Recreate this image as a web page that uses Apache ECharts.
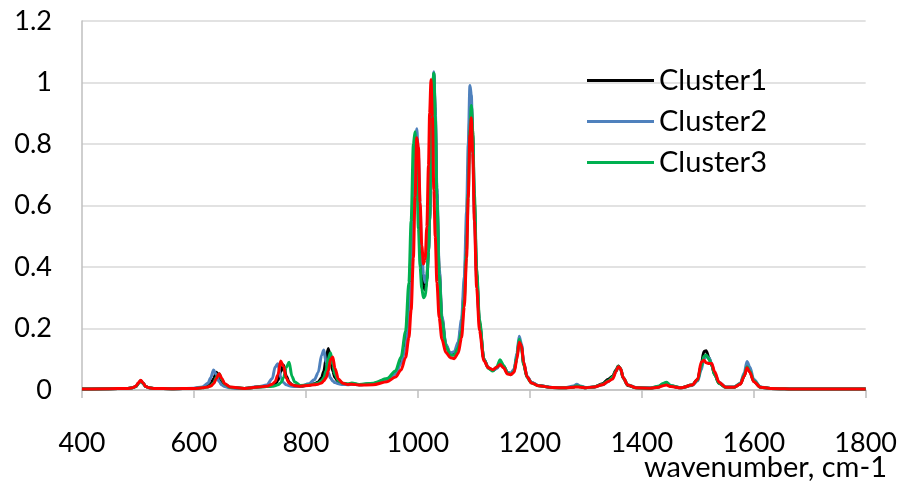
<!DOCTYPE html>
<html>
<head>
<meta charset="utf-8">
<script src="https://cdn.jsdelivr.net/npm/echarts@6/dist/echarts.min.js"></script>
<style>
html,body{margin:0;padding:0;background:#fff;}
#chart{width:900px;height:488px;}
</style>
</head>
<body>
<div id="chart"></div>
<script>
// wavenumbers (cm-1) at which the spectra were read
const wavenumber = [
  400,450,480,490,496,501,505,509,514,520,530,560,600,615,625,630,635,640,645,650,
  655,665,690,715,730,740,745,750,755,760,765,770,775,780,790,805,815,822,828,832,
  836,840,844,848,852,858,866,875,882,895,
  920,945,960,970,978,984,988,992,995,998,1001,1004,1007,1010,1013,1016,1019,1021,1023.5,1026,
  1028.5,1031,1034,1038,1043,1050,1058,1065,1072,1078,1083,1087,1090,1093,1095.5,1098,1101,1105,1110,1118,
  1126,1134,1141,1147,1153,1160,1166,1172,1177,1181,1185,1189,1195,1203,1215,
  1240,1265,1278,1284,1290,1300,1315,1330,1340,1348,1354,1358,1362,1367,1375,1390,1415,1430,1438,1444,
  1452,1470,1490,1500,1506,1511,1515,1520,1525,1530,1538,1550,1565,1576,1583,1588,1593,1600,1612,1630,
  1680,1740,1800
];
const cluster1 = [
  .003,.004,.005,.007,.011,.022,.030,.022,.011,.007,.005,.004,.005,.008,.013,.020,.036,.058,.045,.025,
  .015,.008,.005,.010,.011,.015,.020,.031,.060,.081,.045,.025,.017,.014,.012,.016,.020,.026,.040,.061,
  .101,.135,.101,.061,.040,.027,.021,.018,.020,.017,
  .021,.035,.057,.096,.165,.29,.45,.68,.80,.78,.64,.49,.39,.335,.325,.36,.45,.555,.74,.95,
  1.03,.905,.64,.39,.233,.146,.115,.116,.145,.21,.33,.51,.72,.90,.93,.83,.61,.38,.22,.10,
  .072,.064,.072,.09,.078,.058,.052,.065,.11,.16,.145,.085,.043,.024,.015,
  .008,.007,.010,.014,.011,.007,.010,.020,.035,.045,.065,.078,.068,.038,.015,.007,.006,.010,.018,.022,
  .013,.007,.016,.035,.080,.125,.128,.105,.080,.050,.022,.009,.009,.020,.045,.075,.060,.028,.009,.005,
  .003,.003,.003
];
const cluster2 = [
  .003,.004,.005,.007,.011,.022,.030,.022,.011,.007,.005,.004,.006,.010,.022,.040,.065,.050,.027,.016,
  .011,.007,.005,.011,.016,.037,.075,.085,.042,.024,.017,.014,.012,.011,.012,.020,.033,.057,.113,.130,
  .091,.057,.039,.029,.024,.020,.018,.017,.019,.017,
  .020,.033,.052,.086,.14,.23,.35,.55,.745,.85,.76,.59,.45,.376,.35,.375,.455,.55,.72,.93,
  1.035,.92,.657,.40,.24,.15,.12,.124,.156,.23,.37,.58,.80,.99,.96,.80,.57,.36,.215,.10,
  .072,.064,.07,.083,.075,.058,.055,.068,.12,.175,.15,.09,.045,.025,.015,
  .008,.008,.013,.019,.013,.008,.010,.017,.027,.040,.060,.075,.070,.040,.017,.008,.007,.012,.020,.024,
  .014,.007,.015,.030,.065,.100,.110,.105,.085,.055,.025,.010,.010,.022,.055,.093,.075,.035,.010,.005,
  .003,.003,.003
];
const cluster3 = [
  .003,.004,.005,.007,.011,.022,.030,.022,.011,.007,.005,.004,.005,.007,.010,.014,.023,.041,.053,.033,
  .019,.009,.005,.010,.011,.012,.014,.017,.023,.040,.074,.090,.045,.026,.015,.016,.019,.023,.030,.041,
  .063,.103,.121,.082,.050,.030,.022,.020,.023,.018,
  .022,.037,.062,.107,.19,.35,.55,.80,.84,.70,.525,.40,.33,.30,.305,.35,.45,.565,.76,.975,
  1.03,.89,.62,.375,.226,.143,.113,.113,.137,.193,.295,.454,.64,.846,.925,.844,.636,.396,.23,.10,
  .07,.062,.076,.098,.08,.055,.05,.061,.11,.165,.14,.082,.041,.023,.014,
  .008,.007,.010,.014,.011,.007,.010,.018,.030,.042,.062,.077,.070,.040,.016,.007,.006,.012,.021,.025,
  .014,.007,.016,.033,.075,.110,.114,.100,.080,.050,.022,.009,.009,.020,.048,.076,.062,.030,.009,.005,
  .003,.003,.003
];
const cluster4 = [
  .003,.004,.005,.007,.012,.024,.032,.023,.011,.007,.005,.004,.005,.007,.010,.013,.020,.037,.054,.037,
  .020,.010,.005,.010,.012,.019,.027,.050,.094,.077,.038,.023,.017,.014,.012,.015,.017,.019,.023,.030,
  .040,.062,.099,.107,.070,.036,.022,.018,.019,.016,
  .017,.027,.042,.065,.105,.17,.26,.43,.63,.82,.79,.61,.47,.41,.425,.53,.73,.90,1.01,.89,
  .65,.50,.35,.235,.165,.122,.105,.102,.12,.17,.27,.43,.625,.83,.885,.77,.55,.333,.194,.095,
  .072,.066,.074,.083,.072,.052,.05,.058,.10,.155,.145,.09,.043,.023,.014,
  .008,.007,.009,.010,.009,.007,.010,.017,.028,.036,.060,.076,.070,.040,.016,.007,.006,.009,.014,.016,
  .011,.007,.016,.035,.090,.097,.089,.086,.086,.060,.025,.009,.009,.019,.045,.072,.058,.027,.009,.005,
  .003,.003,.003
];
const seriesNames = ['Cluster1','Cluster2','Cluster3','Cluster4'];
const legendNames = ['Cluster1','Cluster2','Cluster3'];
const colors = ['#000000','#4f81bd','#00b050','#ff0000'];
const xTicks = [400,1800,200];
const yTicks = [0,1.2,0.2];
const xTitle = 'wavenumber, cm-1';

const FONT = 'Lato, "Open Sans", sans-serif';
const values = [cluster1, cluster2, cluster3, cluster4];
const chart = echarts.init(document.getElementById('chart'), null, {renderer:'canvas'});
chart.setOption({
  animation:false,
  backgroundColor:'#ffffff',
  grid:{left:82, right:34, top:21, bottom:98, containLabel:false},
  legend:{
    data:legendNames, orient:'vertical', left:582, top:61,
    icon:'rect', itemWidth:67, itemHeight:3, itemGap:12,
    textStyle:{fontFamily:FONT, fontSize:29, color:'#000', lineHeight:29}
  },
  xAxis:{
    type:'value', min:xTicks[0], max:xTicks[1], interval:xTicks[2],
    axisLine:{show:true, lineStyle:{color:'#bfbfbf', width:1.5}},
    axisTick:{show:true, inside:false, length:8, lineStyle:{color:'#bfbfbf', width:1.5}},
    splitLine:{show:false},
    axisLabel:{fontFamily:FONT, fontSize:27, color:'#000', margin:40, formatter:v=>String(v)}
  },
  yAxis:{
    type:'value', min:yTicks[0], max:yTicks[1], interval:yTicks[2],
    axisLine:{show:true, lineStyle:{color:'#bfbfbf', width:1.5}},
    axisTick:{show:false},
    splitLine:{show:true, lineStyle:{color:'#d9d9d9', width:1.5}},
    axisLabel:{fontFamily:FONT, fontSize:27, color:'#000', margin:30}
  },
  graphic:[{
    type:'text', right:13, top:453,
    style:{text:xTitle, fill:'#000', font:'29px ' + FONT}
  }],
  series: values.map((v,k)=>({
    name:seriesNames[k], type:'line', showSymbol:false, smooth:0.3, smoothMonotone:'x',
    color:colors[k], lineStyle:{color:colors[k], width:3},
    data: wavenumber.map((x,i)=>[x, v[i]])
  }))
});
</script>
</body>
</html>
